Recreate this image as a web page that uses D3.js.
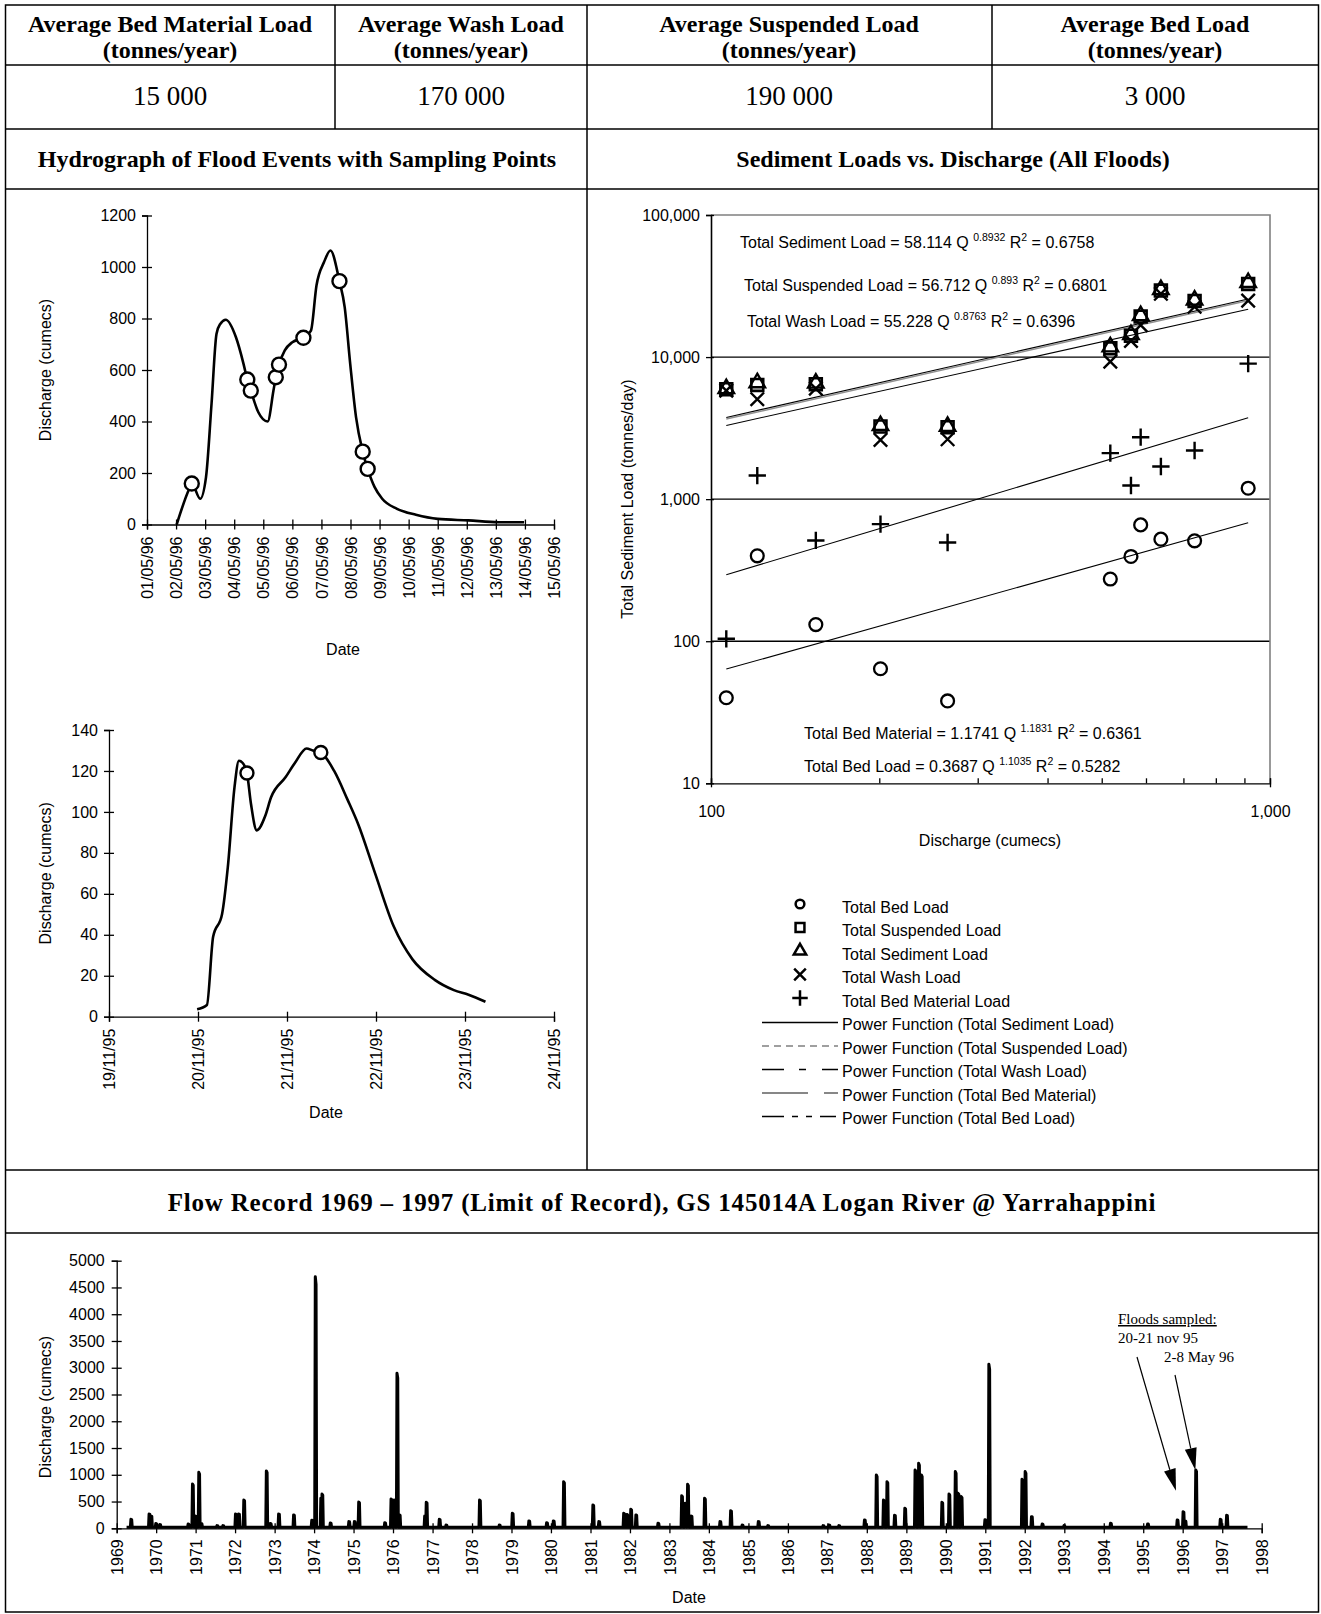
<!DOCTYPE html>
<html>
<head>
<meta charset="utf-8">
<script src="https://cdn.jsdelivr.net/npm/d3@7"></script>
<style>
body { margin: 0; background: #fff; }
.sans { font-family: "Liberation Sans", Arial, sans-serif; font-size: 16px; }
.serif { font-family: "Liberation Serif", "Times New Roman", serif; }
.axis path, .axis line { stroke: #000; }
</style>
</head>
<body>
<div id="chart"></div>
<script>
// ---- data ----
var tableHeads = [
  ["Average Bed Material Load", "(tonnes/year)"],
  ["Average Wash Load", "(tonnes/year)"],
  ["Average Suspended Load", "(tonnes/year)"],
  ["Average Bed Load", "(tonnes/year)"]
];
var tableValues = ["15 000", "170 000", "190 000", "3 000"];
var panelTitles = ["Hydrograph of Flood Events with Sampling Points", "Sediment Loads vs. Discharge (All Floods)"];
var flowTitle = "Flow Record 1969 \u2013 1997 (Limit of Record), GS 145014A Logan River @ Yarrahappini";

// May 1996 flood, days after 01/05/96
var flood1Day = [1.02, 1.45, 1.54, 1.83, 2.03, 2.22, 2.39, 2.52, 2.71, 3.06, 3.32, 3.45, 3.57, 3.83, 4.15, 4.35, 4.43, 4.54, 4.74, 5.0, 5.38, 5.64, 5.83, 6.09, 6.31, 6.62, 6.8, 6.99, 7.19, 7.42, 7.59, 7.83, 8.09, 8.6, 9.25, 10.0, 11.06, 12.09, 12.97];
var flood1Q = [0, 138, 159, 100, 184, 469, 740, 779, 795, 727, 624, 563, 520, 436, 400, 520, 572, 621, 676, 708, 725, 753, 928, 1019, 1064, 945, 844, 624, 417, 283, 216, 145, 100, 61, 38, 22, 16, 9, 9];
var flood1SampleDay = [1.54, 3.45, 3.57, 4.43, 4.54, 5.38, 6.62, 7.42, 7.59];
var flood1SampleQ = [159, 563, 520, 572, 621, 725, 945, 283, 216];

// Nov 1995 flood, days after 19/11/95
var flood2Day = [0.99, 1.10, 1.17, 1.27, 1.335, 1.41, 1.46, 1.50, 1.55, 1.595, 1.66, 1.755, 1.82, 1.985, 2.09, 2.22, 2.29, 2.38, 2.53, 2.68, 2.80, 2.99, 3.20, 3.41, 3.66, 3.875, 4.04, 4.23];
var flood2Q = [3.6, 5.7, 39, 50, 73, 112, 125, 124, 119, 104, 91, 98, 107, 117, 124, 131, 130, 129, 120, 106, 94, 70, 44, 28, 18, 13, 10.7, 7.3];
var flood2SampleDay = [1.55, 2.38];
var flood2SampleQ = [119, 129];

// sediment samples (tonnes/day) against discharge (cumecs)
var sampleQ = [106.5, 121, 154, 201, 265, 518, 564, 587, 638, 733, 914];
var bedLoad = [40, 399, 131, 64, 38, 274, 395, 659, 523, 509, 1194];
var suspendedLoad = [5940, 6370, 6450, 3245, 3210, 11530, 14150, 19270, 29370, 24850, 32700];
var sedimentLoad = [6000, 6600, 6550, 3300, 3250, 11800, 14400, 19600, 29800, 25200, 33500];
var washLoad = [5800, 5050, 6000, 2610, 2640, 9290, 13000, 16800, 27900, 22600, 24950];
var bedMaterialLoad = [104, 1466, 512, 667, 495, 2110, 1248, 2730, 1698, 2200, 8995];

// power functions printed on the chart
var fitNames = ["Total Sediment Load", "Total Suspended Load", "Total Wash Load", "Total Bed Material", "Total Bed Load"];
var fitCoef = ["58.114", "56.712", "55.228", "1.1741", "0.3687"];
var fitExp = ["0.8932", "0.893", "0.8763", "1.1831", "1.1035"];
var fitR2 = ["0.6758", "0.6801", "0.6396", "0.6361", "0.5282"];

// daily flow record, flood peaks (decimal year, cumecs)
var flowYear = [1969.37, 1969.83, 1969.88, 1970.0, 1970.1, 1970.82, 1970.93, 1971.0, 1971.09, 1971.15, 1971.55, 1971.7, 1972.02, 1972.1, 1972.23, 1972.80, 1972.9, 1973.11, 1973.49, 1973.95, 1974.04, 1974.18, 1974.21, 1974.42, 1974.89, 1975.03, 1975.14, 1975.80, 1975.96, 1976.04, 1976.11, 1976.17, 1976.81, 1976.85, 1977.18, 1977.35, 1978.20, 1978.7, 1979.03, 1979.45, 1979.90, 1980.07, 1980.33, 1981.07, 1981.22, 1981.85, 1981.93, 1982.03, 1982.16, 1982.72, 1983.32, 1983.41, 1983.47, 1983.56, 1983.90, 1984.29, 1984.56, 1984.85, 1985.26, 1985.5, 1986.9, 1987.05, 1987.3, 1987.95, 1988.25, 1988.43, 1988.52, 1988.71, 1988.97, 1989.23, 1989.32, 1989.39, 1989.91, 1990.09, 1990.25, 1990.32, 1990.40, 1991.0, 1991.10, 1991.94, 1992.02, 1992.18, 1992.45, 1993.0, 1994.18, 1995.12, 1995.87, 1996.02, 1996.07, 1996.34, 1996.96, 1997.12];
var flowPeak = [168, 268, 230, 90, 70, 80, 828, 230, 1046, 90, 50, 50, 268, 268, 530, 1071, 90, 268, 250, 150, 4700, 560, 640, 100, 125, 125, 492, 105, 548, 530, 2895, 250, 230, 485, 168, 60, 530, 60, 280, 137, 105, 137, 872, 436, 125, 280, 260, 355, 250, 93, 610, 467, 822, 230, 560, 125, 330, 60, 125, 50, 50, 60, 50, 155, 996, 530, 872, 243, 374, 1090, 1214, 996, 486, 641, 1059, 654, 592, 160, 3064, 915, 1059, 218, 80, 50, 93, 81, 155, 311, 137, 1090, 168, 243];
var flowStart = 1969.25, flowEnd = 1997.64, flowBase = 18;

var legendNames = ["Total Bed Load", "Total Suspended Load", "Total Sediment Load", "Total Wash Load", "Total Bed Material Load"];
var legendFits = ["Power Function (Total Sediment Load)", "Power Function (Total Suspended Load)", "Power Function (Total Wash Load)", "Power Function (Total Bed Material)", "Power Function (Total Bed Load)"];

// ---- page ----
var svg = d3.select("#chart").append("svg")
    .attr("width", 1321)
    .attr("height", 1614);

// table frame
var frame = svg.append("g").attr("stroke", "#000").attr("stroke-width", 1.5);
frame.append("rect").attr("x", 5.5).attr("y", 5).attr("width", 1313).attr("height", 1607).attr("fill", "none");
[65, 129, 189, 1170, 1233].forEach(function(y) {
  frame.append("line").attr("x1", 5.5).attr("x2", 1318.5).attr("y1", y).attr("y2", y);
});
frame.append("line").attr("x1", 335).attr("x2", 335).attr("y1", 5).attr("y2", 129);
frame.append("line").attr("x1", 992).attr("x2", 992).attr("y1", 5).attr("y2", 129);
frame.append("line").attr("x1", 587).attr("x2", 587).attr("y1", 5).attr("y2", 1170);

var colCentre = [170, 461, 789, 1155];
tableHeads.forEach(function(h, i) {
  h.forEach(function(line, j) {
    svg.append("text").attr("class", "serif")
      .attr("x", colCentre[i]).attr("y", 32 + j * 26)
      .attr("text-anchor", "middle")
      .style("font-size", "24px").style("font-weight", "bold")
      .text(line);
  });
  svg.append("text").attr("class", "serif")
    .attr("x", colCentre[i]).attr("y", 105)
    .attr("text-anchor", "middle")
    .style("font-size", "27px")
    .text(tableValues[i]);
});
svg.append("text").attr("class", "serif").attr("x", 297).attr("y", 167)
  .attr("text-anchor", "middle").style("font-size", "24px").style("font-weight", "bold")
  .text(panelTitles[0]);
svg.append("text").attr("class", "serif").attr("x", 953).attr("y", 167)
  .attr("text-anchor", "middle").style("font-size", "24px").style("font-weight", "bold")
  .text(panelTitles[1]);
svg.append("text").attr("class", "serif").attr("x", 662).attr("y", 1211)
  .attr("text-anchor", "middle").style("font-size", "25px").style("font-weight", "bold")
  .style("letter-spacing", "0.8px")
  .text(flowTitle);

function styleAxis(g) {
  g.attr("font-size", null).attr("font-family", null).attr("class", "axis sans");
  g.selectAll("path").attr("stroke-width", 1.3);
  g.selectAll("line").attr("stroke-width", 1.3);
}

function dayDate(start, d) { return new Date(start + d * 864e5); }

// hydrograph panel
function hydrograph(opt) {
  var x = d3.scaleUtc().domain([opt.start, opt.end]).range([opt.x0, opt.x1]);
  var y = d3.scaleLinear().domain([0, opt.ymax]).range([opt.y0, opt.y1]);
  var g = svg.append("g");

  var ya = g.append("g").attr("transform", "translate(" + opt.x0 + ",0)")
    .call(d3.axisLeft(y).tickValues(d3.range(0, opt.ymax + 1, opt.ystep)).tickFormat(d3.format("d"))
      .tickSizeOuter(0).tickSize(5).tickPadding(6));
  styleAxis(ya);
  ya.selectAll(".tick line").attr("x1", 5);

  var xa = g.append("g").attr("transform", "translate(0," + opt.y0 + ")")
    .call(d3.axisBottom(x).ticks(d3.utcDay.every(1)).tickFormat(d3.utcFormat("%d/%m/%y")).tickSizeOuter(0).tickSize(5));
  styleAxis(xa);
  xa.selectAll(".tick line").attr("y1", -5);
  xa.selectAll(".tick text")
    .attr("transform", "rotate(-90)")
    .attr("x", -12).attr("y", 0).attr("dy", "0.35em")
    .style("text-anchor", "end");

  var line = d3.line()
    .x(function(d) { return x(dayDate(opt.startMs, d[0])); })
    .y(function(d) { return y(d[1]); })
    .curve(d3.curveMonotoneX);
  g.append("path")
    .datum(d3.zip(opt.days, opt.q))
    .attr("d", line)
    .attr("fill", "none").attr("stroke", "#000").attr("stroke-width", 2.6)
    .attr("stroke-linejoin", "round");

  g.selectAll("circle.sample")
    .data(d3.zip(opt.sDays, opt.sQ))
    .enter().append("circle")
    .attr("cx", function(d) { return x(dayDate(opt.startMs, d[0])); })
    .attr("cy", function(d) { return y(d[1]); })
    .attr("r", opt.r)
    .attr("fill", "#fff").attr("stroke", "#000").attr("stroke-width", 2.4);

  g.append("text").attr("class", "sans")
    .attr("transform", "translate(45," + ((opt.y0 + opt.y1) / 2) + ") rotate(-90)")
    .attr("dy", "0.35em").attr("text-anchor", "middle")
    .text("Discharge (cumecs)");
  g.append("text").attr("class", "sans")
    .attr("x", opt.dateX).attr("y", opt.dateY).attr("dy", "0.35em")
    .attr("text-anchor", "middle").text("Date");
}

var may96 = Date.UTC(1996, 4, 1), nov95 = Date.UTC(1995, 10, 19);
hydrograph({
  start: new Date(may96), end: dayDate(may96, 14), startMs: may96,
  x0: 147, x1: 554, y0: 524.5, y1: 215.5, ymax: 1200, ystep: 200,
  days: flood1Day, q: flood1Q, sDays: flood1SampleDay, sQ: flood1SampleQ, r: 7,
  dateX: 343, dateY: 649
});
hydrograph({
  start: new Date(nov95), end: dayDate(nov95, 5), startMs: nov95,
  x0: 109, x1: 554, y0: 1016.7, y1: 730, ymax: 140, ystep: 20,
  days: flood2Day, q: flood2Q, sDays: flood2SampleDay, sQ: flood2SampleQ, r: 6.5,
  dateX: 326, dateY: 1112
});

// ---- sediment vs discharge (log-log) ----
var sx = d3.scaleLog().domain([100, 1000]).range([711, 1270]);
var sy = d3.scaleLog().domain([10, 100000]).range([783.3, 215]);
var sg = svg.append("g");

[100, 1000, 10000].forEach(function(v) {
  sg.append("line").attr("x1", sx(100)).attr("x2", sx(1000))
    .attr("y1", sy(v)).attr("y2", sy(v))
    .attr("stroke", "#000").attr("stroke-width", 1.3);
});
sg.append("path")
  .attr("d", "M" + sx(100) + "," + sy(100000) + "H" + sx(1000) + "V" + sy(10))
  .attr("fill", "none").attr("stroke", "#808080").attr("stroke-width", 1.6);

var sya = sg.append("g").attr("transform", "translate(" + sx(100) + ",0)")
  .call(d3.axisLeft(sy).tickValues([10, 100, 1000, 10000, 100000]).tickFormat(d3.format(",")).tickSizeOuter(0).tickSize(5).tickPadding(6));
styleAxis(sya);
sya.select(".domain").attr("stroke", "#555").attr("stroke-width", 1.6);
sya.selectAll(".tick line").attr("x1", 3);

var sxa = sg.append("g").attr("transform", "translate(0," + sy(10) + ")")
  .call(d3.axisBottom(sx).tickValues(d3.range(100, 1001, 100)).tickSizeOuter(0).tickSize(-5).tickPadding(22)
    .tickFormat(function(d) { return d === 100 || d === 1000 ? d3.format(",")(d) : ""; }));
styleAxis(sxa);
sxa.selectAll(".tick line").attr("y1", function(d) { return d === 100 || d === 1000 ? 4 : 0; });

// fitted power functions
var qRange = d3.extent(sampleQ);
var fitStyle = [
  {stroke: "#000", width: 1.1},
  {stroke: "#909090", width: 1.5},
  {stroke: "#000", width: 1.1},
  {stroke: "#000", width: 1.1},
  {stroke: "#000", width: 1.1}
];
[1, 0, 2, 3, 4].forEach(function(i) {
  var pts = qRange.map(function(q) { return [q, +fitCoef[i] * Math.pow(q, +fitExp[i])]; });
  sg.append("path")
    .datum(pts)
    .attr("d", d3.line().x(function(d) { return sx(d[0]); }).y(function(d) { return sy(d[1]); }))
    .attr("fill", "none")
    .attr("stroke", fitStyle[i].stroke)
    .attr("stroke-width", fitStyle[i].width);
});

// markers
var markerTypes = [
  {type: d3.symbolCircle, size: 130, sw: 2.3},
  {type: d3.symbolSquare2, size: 180, sw: 2.6},
  {type: d3.symbolTriangle2, size: 175, sw: 2.3},
  {type: d3.symbolTimes, size: 120, sw: 2.4},
  {type: d3.symbolPlus, size: 100, sw: 2.4}
];
var seriesValues = [bedLoad, suspendedLoad, sedimentLoad, washLoad, bedMaterialLoad];
[3, 1, 2, 4, 0].forEach(function(k) {
  sg.selectAll(null)
    .data(d3.zip(sampleQ, seriesValues[k]))
    .enter().append("path")
    .attr("transform", function(d) { return "translate(" + sx(d[0]) + "," + sy(d[1]) + ")"; })
    .attr("d", d3.symbol().type(markerTypes[k].type).size(markerTypes[k].size))
    .attr("fill", "none").attr("stroke", "#000").attr("stroke-width", markerTypes[k].sw);
});

// equations
var eqPos = [[740, 248], [744, 291], [747, 326.5], [804, 739], [804, 772]];
fitNames.forEach(function(n, i) {
  var t = sg.append("text").attr("class", "sans").attr("x", eqPos[i][0]).attr("y", eqPos[i][1]);
  t.append("tspan").text(n + " = " + fitCoef[i] + " Q ");
  t.append("tspan").attr("dy", -7).style("font-size", "10.5px").text(fitExp[i]);
  t.append("tspan").attr("dy", 7).text(" R");
  t.append("tspan").attr("dy", -7).style("font-size", "10.5px").text("2");
  t.append("tspan").attr("dy", 7).text(" = " + fitR2[i]);
});

sg.append("text").attr("class", "sans")
  .attr("transform", "translate(627,499) rotate(-90)")
  .attr("dy", "0.35em").attr("text-anchor", "middle")
  .text("Total Sediment Load (tonnes/day)");
sg.append("text").attr("class", "sans")
  .attr("x", 990).attr("y", 840.5).attr("dy", "0.35em").attr("text-anchor", "middle")
  .text("Discharge (cumecs)");

// legend
var legY = d3.range(10).map(function(i) { return 907 + i * 23.5; });
var legMarkers = [
  {type: d3.symbolCircle, size: 60},
  {type: d3.symbolSquare2, size: 100},
  {type: d3.symbolTriangle2, size: 110},
  {type: d3.symbolTimes, size: 90},
  {type: d3.symbolPlus, size: 80}
];
legendNames.forEach(function(n, i) {
  sg.append("path")
    .attr("transform", "translate(800," + (legY[i] - 3) + ")")
    .attr("d", d3.symbol().type(legMarkers[i].type).size(legMarkers[i].size))
    .attr("fill", "none").attr("stroke", "#000").attr("stroke-width", 2.5);
  sg.append("text").attr("class", "sans").attr("x", 842).attr("y", legY[i]).attr("dy", "0.35em").text(n);
});
var legDash = [null, "7,5", "22,15,7,16,16", "46,16,16", "22,8,6,8,6,8,16"];
var legColour = ["#000", "#808080", "#000", "#606060", "#000"];
legendFits.forEach(function(n, i) {
  var yy = legY[5 + i];
  sg.append("line").attr("x1", 762).attr("x2", 838).attr("y1", yy - 2).attr("y2", yy - 2)
    .attr("stroke", legColour[i]).attr("stroke-width", 1.3)
    .attr("stroke-dasharray", legDash[i]);
  sg.append("text").attr("class", "sans").attr("x", 842).attr("y", yy).attr("dy", "0.35em").text(n);
});

// ---- flow record ----
function yearDate(v) {
  var yr = Math.floor(v), s = Date.UTC(yr, 0, 1), e = Date.UTC(yr + 1, 0, 1);
  return new Date(s + (v - yr) * (e - s));
}
var fx = d3.scaleUtc().domain([new Date(Date.UTC(1969, 0, 1)), new Date(Date.UTC(1998, 0, 1))]).range([116.7, 1261.7]);
var fy = d3.scaleLinear().domain([0, 5000]).range([1528.3, 1260.7]);
var fg = svg.append("g");

var fya = fg.append("g").attr("transform", "translate(116.7,0)")
  .call(d3.axisLeft(fy).tickValues(d3.range(0, 5001, 500)).tickFormat(d3.format("d"))
    .tickSizeOuter(0).tickSize(5).tickPadding(7));
styleAxis(fya);
fya.selectAll(".tick line").attr("x1", 5);

var fxa = fg.append("g").attr("transform", "translate(0,1528.3)")
  .call(d3.axisBottom(fx).ticks(d3.utcYear.every(1)).tickFormat(d3.utcFormat("%Y")).tickSizeOuter(0).tickSize(5));
styleAxis(fxa);
fxa.selectAll(".tick line").attr("y1", -5);
fxa.selectAll(".tick text")
  .attr("transform", "rotate(-90)")
  .attr("x", -11).attr("y", 0).attr("dy", "0.35em")
  .style("text-anchor", "end");

var hw = 0.024;
var flowPts = [[flowStart, flowBase]];
flowYear.forEach(function(t, i) {
  flowPts.push([t - hw, flowBase], [t - hw * 0.4, flowPeak[i]], [t + hw * 0.4, flowPeak[i] * 0.97], [t + hw, flowBase]);
});
flowPts.push([flowEnd, flowBase]);
fg.append("path")
  .datum(flowPts)
  .attr("d", d3.line().x(function(d) { return fx(yearDate(d[0])); }).y(function(d) { return fy(d[1]); }))
  .attr("fill", "#000").attr("stroke", "#000").attr("stroke-width", 3)
  .attr("stroke-linejoin", "round");

fg.append("text").attr("class", "sans")
  .attr("transform", "translate(45,1407) rotate(-90)")
  .attr("dy", "0.35em").attr("text-anchor", "middle")
  .text("Discharge (cumecs)");
fg.append("text").attr("class", "sans")
  .attr("x", 689).attr("y", 1597).attr("dy", "0.35em").attr("text-anchor", "middle")
  .text("Date");

// annotation
var noteLines = ["Floods sampled:", "20-21 nov 95", "2-8 May 96"];
var notePos = [[1118, 1324], [1118, 1343], [1164, 1362]];
noteLines.forEach(function(s, i) {
  fg.append("text").attr("class", "serif")
    .attr("x", notePos[i][0]).attr("y", notePos[i][1])
    .style("font-size", "15px")
    .style("text-decoration", i === 0 ? "underline" : null)
    .text(s);
});
var arrowTip = [[1995.83, 700], [1996.32, 1090]];
var arrowFrom = [[1137, 1357], [1175, 1375]];
arrowTip.forEach(function(a, i) {
  var tx = fx(yearDate(a[0])), ty = fy(a[1]);
  var fx0 = arrowFrom[i][0], fy0 = arrowFrom[i][1];
  var ang = Math.atan2(ty - fy0, tx - fx0);
  var L = 22, W = 6;
  var bx = tx - L * Math.cos(ang), by = ty - L * Math.sin(ang);
  fg.append("line").attr("x1", fx0).attr("y1", fy0).attr("x2", bx).attr("y2", by)
    .attr("stroke", "#000").attr("stroke-width", 1.2);
  fg.append("path")
    .attr("d", "M" + tx + "," + ty +
      "L" + (bx + W * Math.sin(ang)) + "," + (by - W * Math.cos(ang)) +
      "L" + (bx - W * Math.sin(ang)) + "," + (by + W * Math.cos(ang)) + "Z")
    .attr("fill", "#000");
});
</script>
</body>
</html>
